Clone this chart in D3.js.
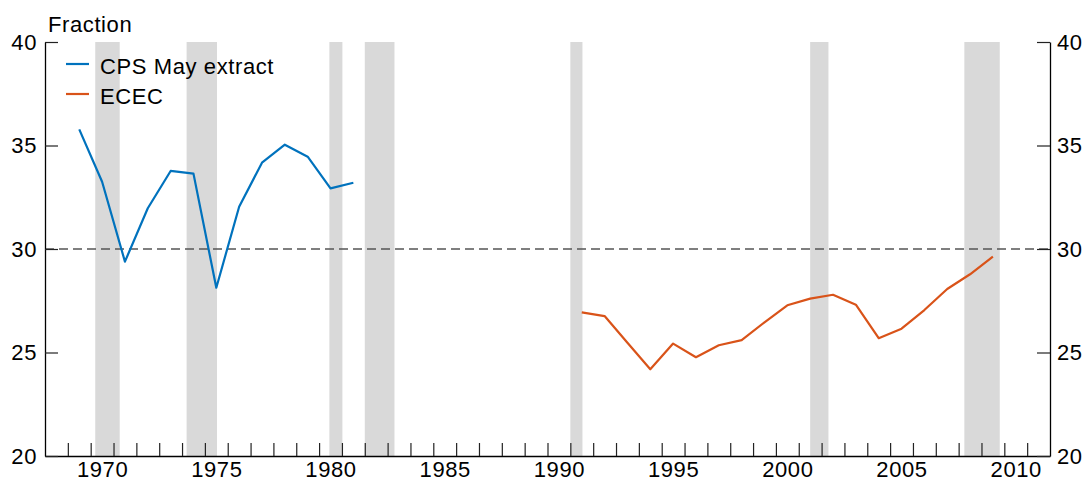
<!DOCTYPE html>
<html>
<head>
<meta charset="utf-8">
<script src="https://cdn.jsdelivr.net/npm/d3@7"></script>
<style>
  html, body { margin: 0; padding: 0; background: #fff; }
  svg { display: block; font-family: "Liberation Sans", Arial, sans-serif; }
  text { letter-spacing: 0.6px; }
</style>
</head>
<body>
<svg id="chart" width="1086" height="481"></svg>
<script>
// Annual observations (plotted at the middle of each year)
const cpsYears = [1969, 1970, 1971, 1972, 1973, 1974, 1975, 1976, 1977, 1978, 1979, 1980, 1981];
const cpsValues = [35.78, 33.25, 29.39, 31.97, 33.77, 33.64, 28.13, 32.04, 34.17, 35.04, 34.46, 32.93, 33.20];

const ececYears = [1991, 1992, 1993, 1994, 1995, 1996, 1997, 1998, 1999, 2000,
                   2001, 2002, 2003, 2004, 2005, 2006, 2007, 2008, 2009];
const ececValues = [26.94, 26.76, 25.47, 24.19, 25.43, 24.77, 25.35, 25.60, 26.46, 27.28,
                    27.60, 27.79, 27.31, 25.69, 26.15, 27.05, 28.07, 28.78, 29.63];

// Shaded recession periods (start, end)
const recessionStarts = [1970.2, 1974.2, 1980.45, 1982.0, 1991.0, 2001.5, 2008.25];
const recessionEnds   = [1971.27, 1975.53, 1981.02, 1983.3, 1991.53, 2002.3, 2009.8];

const yTicks = [20, 25, 30, 35, 40];
const xLabelYears = [1970, 1975, 1980, 1985, 1990, 1995, 2000, 2005, 2010];
const referenceLevel = 30;
const seriesNames = ["CPS May extract", "ECEC"];
const seriesColors = ["#0072BD", "#D95319"];

(function draw() {
  const svg = d3.select("#chart");
  const plotLeft = 45, plotRight = 1050, plotTop = 42, plotBottom = 456;

  const x = d3.scaleLinear().domain([1968, 2012]).range([plotLeft, plotRight]);
  const y = d3.scaleLinear().domain([20, 40]).range([plotBottom, plotTop]);

  // recession shading
  svg.append("g").selectAll("rect")
    .data(recessionStarts.map((s, i) => [s, recessionEnds[i]]))
    .join("rect")
    .attr("x", d => x(d[0]))
    .attr("width", d => x(d[1]) - x(d[0]))
    .attr("y", y(40))
    .attr("height", y(20) - y(40))
    .attr("fill", "#d9d9d9");

  // reference line
  svg.append("line")
    .attr("x1", plotLeft).attr("x2", plotRight)
    .attr("y1", y(referenceLevel)).attr("y2", y(referenceLevel))
    .attr("stroke", "#555").attr("stroke-width", 1.3)
    .attr("stroke-dasharray", "9,5");

  const fontSize = "22px";
  const styleText = g => g.selectAll("text").attr("font-size", fontSize)
    .attr("fill", "#000").attr("font-family", "Liberation Sans, Arial, sans-serif");
  const styleLines = g => {
    g.selectAll(".tick line").attr("stroke", "#222").attr("stroke-width", 1.2);
    g.select(".domain").attr("stroke", "#000").attr("stroke-width", 1.3);
  };

  // x axis: a tick at each year boundary, labels centred in the year
  const yearTicks = d3.range(1969, 2012);
  svg.append("g")
    .attr("transform", `translate(0,${plotBottom})`)
    .call(d3.axisBottom(x).tickValues(yearTicks).tickSize(-13).tickFormat("").tickSizeOuter(0))
    .call(styleLines);

  svg.append("g")
    .attr("transform", `translate(0,${plotBottom})`)
    .call(d3.axisBottom(x).tickValues(xLabelYears.map(v => v + 0.5))
      .tickFormat(d => String(Math.floor(d))).tickSize(0).tickPadding(5))
    .call(g => g.select(".domain").remove())
    .call(styleText);

  // left and right y axes
  svg.append("g")
    .attr("transform", `translate(${plotLeft},0)`)
    .call(d3.axisLeft(y).tickValues(yTicks).tickSize(-13).tickPadding(8).tickSizeOuter(0))
    .call(styleLines)
    .call(styleText);

  svg.append("g")
    .attr("transform", `translate(${plotRight},0)`)
    .call(d3.axisRight(y).tickValues(yTicks).tickSize(-13).tickPadding(7).tickSizeOuter(0))
    .call(styleLines)
    .call(styleText);

  // unit label
  svg.append("text")
    .attr("x", 48).attr("y", 32)
    .attr("font-size", fontSize)
    .text("Fraction");

  // series lines
  const line = d3.line().x(d => x(d[0] + 0.5)).y(d => y(d[1]));
  const series = [
    cpsYears.map((yr, i) => [yr, cpsValues[i]]),
    ececYears.map((yr, i) => [yr, ececValues[i]])
  ];
  svg.append("g").selectAll("path")
    .data(series)
    .join("path")
    .attr("d", line)
    .attr("fill", "none")
    .attr("stroke", (d, i) => seriesColors[i])
    .attr("stroke-width", 2.2)
    .attr("stroke-linejoin", "round");

  // legend
  const legend = svg.append("g").selectAll("g")
    .data(seriesNames)
    .join("g")
    .attr("transform", (d, i) => `translate(66,${64 + i * 30})`);
  legend.append("line")
    .attr("x1", 0).attr("x2", 23)
    .attr("stroke", (d, i) => seriesColors[i])
    .attr("stroke-width", 2.2);
  legend.append("text")
    .attr("x", 34).attr("dy", "0.47em")
    .attr("font-size", fontSize)
    .text(d => d);
})();
</script>
</body>
</html>
